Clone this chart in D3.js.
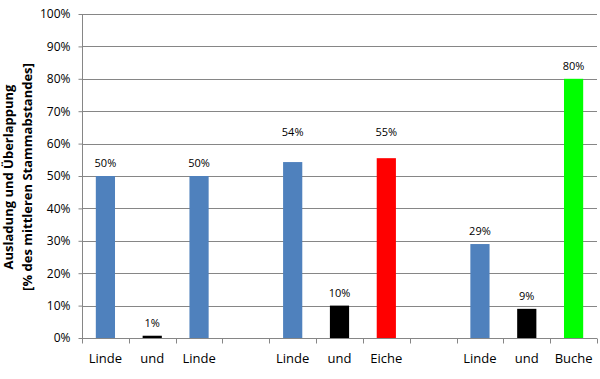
<html>
<head>
  <meta charset="utf-8">
  <style>
    body { margin: 0; background: #fff; }
    text { font-family: "Open Sans", Arial, sans-serif; }
  </style>
  <script src="https://d3js.org/d3.v7.min.js"></script>
</head>
<body>
  <div id="chart"></div>
  <script>
    // Data
    var categories = ["Linde", "und", "Linde", "", "Linde", "und", "Eiche", "", "Linde", "und", "Buche"];
    var values = [50, 0.7, 50, null, 54.3, 10, 55.5, null, 29, 9, 80];
    var valueLabels = ["50%", "1%", "50%", "", "54%", "10%", "55%", "", "29%", "9%", "80%"];
    var barColors = ["#4F81BD", "#000000", "#4F81BD", "none", "#4F81BD", "#000000", "#FF0000", "none", "#4F81BD", "#000000", "#00FF00"];
    var yTicks = [0, 10, 20, 30, 40, 50, 60, 70, 80, 90, 100];

    var margin = { top: 14, right: 3, bottom: 41, left: 82 },
        width = 600 - margin.left - margin.right,
        height = 379 - margin.top - margin.bottom;

    var x = d3.scaleBand()
        .domain(d3.range(categories.length))
        .range([0, width])
        .paddingInner(0.59)
        .paddingOuter(0.295);

    var y = d3.scaleLinear()
        .domain([0, 100])
        .range([height, 0]);

    var svg = d3.select("#chart").append("svg")
        .attr("width", 600)
        .attr("height", 379)
      .append("g")
        .attr("transform", "translate(" + margin.left + "," + margin.top + ")");

    // gridlines
    svg.append("g")
        .selectAll("line")
        .data(yTicks)
        .enter().append("line")
        .attr("x1", 0)
        .attr("x2", width)
        .attr("y1", function(d) { return Math.round(y(d)) + 0.5; })
        .attr("y2", function(d) { return Math.round(y(d)) + 0.5; })
        .attr("stroke", "#868686")
        .attr("stroke-width", 1);

    // y axis
    var yAxis = svg.append("g")
        .attr("transform", "translate(0.5,0)")
        .call(d3.axisLeft(y).tickValues(yTicks).tickSize(4).tickPadding(8)
          .tickFormat(function(d) { return d + "%"; }));
    yAxis.selectAll("path, line").attr("stroke", "#868686");
    yAxis.select(".domain").attr("d", "M0," + height + "V0");
    yAxis.selectAll("text").style("font-size", "12px").attr("fill", "#000")
        .style("font-family", "'Open Sans', Arial, sans-serif");

    // bars + value labels
    // labels of the middle group sit a bit higher (manually moved in the original)
    var liftLabel = { 4: 17, 6: 13 };
    values.forEach(function(v, i) {
      if (v === null) return;
      svg.append("rect")
          .attr("x", x(i))
          .attr("y", y(v))
          .attr("width", x.bandwidth())
          .attr("height", height - y(v))
          .attr("fill", barColors[i]);
      svg.append("text")
          .attr("x", x(i) + x.bandwidth() / 2)
          .attr("y", y(v) - 9 - (liftLabel[i] || 0))
          .attr("text-anchor", "middle")
          .style("font-size", "11px")
          .attr("fill", "#000")
          .text(valueLabels[i]);
    });

    // x axis
    var xAxis = svg.append("g")
        .attr("transform", "translate(0," + (Math.round(height) + 0.5) + ")");
    xAxis.append("line")
        .attr("x1", 0).attr("x2", width)
        .attr("stroke", "#868686");
    xAxis.selectAll(".tick")
        .data(d3.range(categories.length + 1))
        .enter().append("line")
        .attr("x1", function(d) { return Math.round(d * width / categories.length) + 0.5; })
        .attr("x2", function(d) { return Math.round(d * width / categories.length) + 0.5; })
        .attr("y1", 0).attr("y2", 5)
        .attr("stroke", "#868686");
    xAxis.selectAll(".lbl")
        .data(categories)
        .enter().append("text")
        .attr("x", function(d, i) { return x(i) + x.bandwidth() / 2; })
        .attr("y", 24)
        .attr("text-anchor", "middle")
        .style("font-size", "13px")
        .attr("fill", "#000")
        .text(function(d) { return d; });

    // y axis title
    var title = svg.append("text")
        .attr("transform", "translate(-69.5," + (height / 2 + 1) + ") rotate(-90)")
        .attr("text-anchor", "middle")
        .style("font-size", "13px")
        .style("font-weight", "bold")
        .attr("fill", "#000");
    title.append("tspan").attr("x", 0).attr("dy", 0).text("Ausladung und Überlappung");
    title.append("tspan").attr("x", 0).attr("dy", 19).text("[% des mittleren Stammabstandes]");
  </script>
</body>
</html>
